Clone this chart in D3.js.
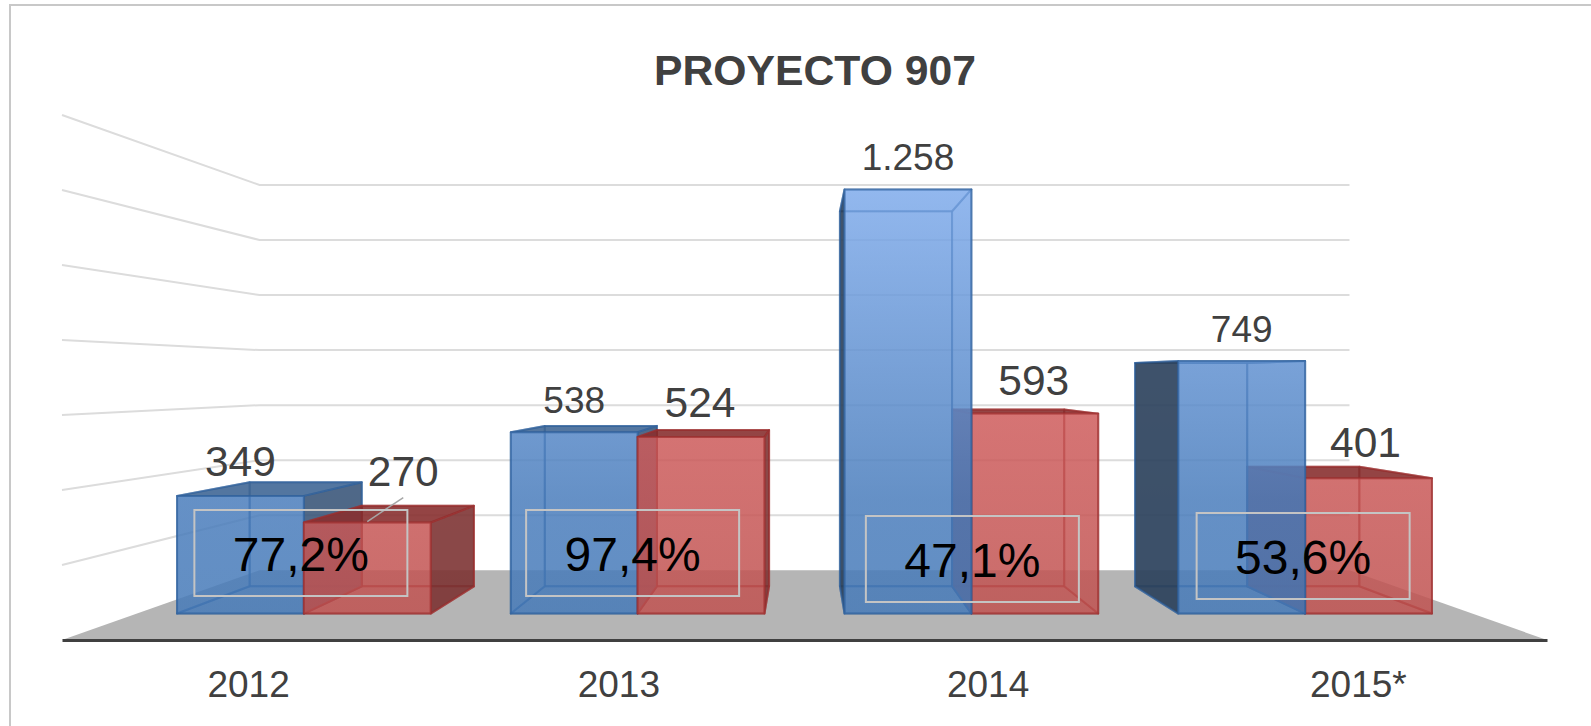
<!DOCTYPE html>
<html>
<head>
<meta charset="utf-8">
<script src="https://cdn.jsdelivr.net/npm/d3@7"></script>
<style>
  html, body { margin: 0; padding: 0; background: #fff; }
  svg { display: block; }
  text { font-family: "Liberation Sans", Arial, sans-serif; }
</style>
</head>
<body>
<div id="chart"></div>
<script>
var width = 1591,
    height = 726;

// data
var years = ["2012", "2013", "2014", "2015*"];
var series1 = [349, 538, 1258, 749];
var series2 = [270, 524, 593, 401];
var series1Labels = ["349", "538", "1.258", "749"];
var series2Labels = ["270", "524", "593", "401"];
var percents = ["77,2%", "97,4%", "47,1%", "53,6%"];
var gridTicks = [200, 400, 600, 800, 1000, 1200, 1400];

// hand placed label nudges, as in the original chart
var labelNudge1 = [[0, -6, 42.5], [0, -13, 37], [0, -19, 37], [0, -19, 37]];
var labelNudge2 = [[36, -20, 42.5], [-1, -13, 42.5], [-1, -15, 42.5], [-3, -10, 42.5]];
var boxNudge = [[-3, 553], [-5, 553], [1, 559], [-2, 556]];
var tickNudge = [1, 0, -2, -3];

// fake 3d: everything goes through one perspective projection
var vpX = 804.5, vpY = 378;
var floorY = 640;
var sBack = 0.734, sBarFront = 0.899, sBarBack = 0.795;

var x = d3.scaleBand()
    .domain(years)
    .range([62, 1547])
    .paddingInner(0.24)
    .paddingOuter(0.12);

var y = d3.scaleLinear()
    .domain([0, 1400])
    .range([floorY, floorY - 525]);

function project(wx, wy, s) {
  return [vpX + (wx - vpX) * s, vpY + (wy - vpY) * s];
}

var line = d3.line();

var svg = d3.select("#chart").append("svg")
    .attr("width", width)
    .attr("height", height);

var defs = svg.append("defs");

function addGradient(id, stops) {
  var grad = defs.append("linearGradient")
      .attr("id", id)
      .attr("gradientUnits", "userSpaceOnUse")
      .attr("x1", 0).attr("x2", 0)
      .attr("y1", 190).attr("y2", 620);
  stops.forEach(function(s) {
    grad.append("stop").attr("offset", s[0]).attr("stop-color", s[1]);
  });
}

addGradient("blueFill", [[0, "#7fabeb"], [0.72, "#4a7dbc"], [1, "#467ab8"]]);
addGradient("redFill", [[0, "#e06868"], [0.5, "#cf5c5c"], [1, "#bf5250"]]);

// frame, open on the right and bottom like the crop
svg.append("path")
    .attr("d", "M10," + height + "V5H" + width)
    .attr("fill", "none")
    .attr("stroke", "#c8c8c8")
    .attr("stroke-width", 2);

svg.append("text")
    .attr("x", 815)
    .attr("y", 85)
    .attr("text-anchor", "middle")
    .attr("font-size", 42.7)
    .attr("font-weight", "bold")
    .attr("fill", "#404040")
    .text("PROYECTO 907");

// floor
var r0 = x.range()[0], r1 = x.range()[1];
svg.append("path")
    .attr("d", line([project(r0, y(0), 1), project(r0, y(0), sBack), project(r1, y(0), sBack), project(r1, y(0), 1)]) + "Z")
    .attr("fill", "#b5b5b5");

// gridlines on left wall and back wall
svg.append("g").selectAll("path")
    .data(gridTicks)
    .enter().append("path")
    .attr("d", function(d) {
      return line([project(r0, y(d), 1), project(r0, y(d), sBack), project(r1, y(d), sBack)]);
    })
    .attr("fill", "none")
    .attr("stroke", "#dcdcdc")
    .attr("stroke-width", 2);

function drawBar(g, x0, x1, value, col) {
  var yTop = y(value), yBot = y(0);
  var fb = project(x0, yBot, sBarFront), fB = project(x1, yBot, sBarFront),
      ft = project(x0, yTop, sBarFront), fT = project(x1, yTop, sBarFront),
      bb = project(x0, yBot, sBarBack), bB = project(x1, yBot, sBarBack),
      bt = project(x0, yTop, sBarBack), bT = project(x1, yTop, sBarBack);

  var leftVisible = x0 > vpX,
      rightVisible = x1 < vpX,
      topVisible = yTop > vpY;

  function face(pts, fill, opacity) {
    g.append("path")
        .attr("d", line(pts) + "Z")
        .attr("fill", fill)
        .attr("fill-opacity", opacity)
        .attr("stroke", col.stroke)
        .attr("stroke-opacity", 0.6)
        .attr("stroke-width", 2)
        .attr("stroke-linejoin", "round");
  }

  var base = "url(#" + col.fill + ")";

  // inner faces first
  face([bb, bB, bT, bt], base, 0.5);
  face([fb, fB, bB, bb], base, 0.5);
  if (!leftVisible) face([fb, ft, bt, bb], base, 0.5);
  if (!rightVisible) face([fB, fT, bT, bB], base, 0.5);
  if (!topVisible) face([ft, fT, bT, bt], base, 0.5);

  // outer faces
  if (leftVisible) face([fb, ft, bt, bb], col.left, 0.85);
  if (rightVisible) face([fB, fT, bT, bB], col.right, 0.8);
  if (topVisible) face([ft, fT, bT, bt], col.top, 0.8);
  face([fb, fB, fT, ft], base, 0.7);
}

var blue = { fill: "blueFill", stroke: "#2f609c", left: "#2a3d55", right: "#3a5272", top: "#3e6490" };
var red = { fill: "redFill", stroke: "#9c2f2f", left: "#8a3030", right: "#743030", top: "#802a2a" };

// bars right of the vanishing point paint back to front the other way round
var bars = svg.append("g");
years.forEach(function(yr, i) {
  var g = bars.append("g");
  var a = x(yr), w = x.bandwidth() / 2;
  var draw1 = function() { drawBar(g, a, a + w, series1[i], blue); };
  var draw2 = function() { drawBar(g, a + w, a + 2 * w, series2[i], red); };
  if (a + w > vpX) { draw2(); draw1(); } else { draw1(); draw2(); }
});

// value labels
function addLabels(values, labels, nudge, offset) {
  svg.append("g").selectAll("text")
      .data(values)
      .enter().append("text")
      .attr("x", function(d, i) {
        var cx = x(years[i]) + x.bandwidth() * offset;
        return project(cx, y(d), sBarFront)[0] + nudge[i][0];
      })
      .attr("y", function(d, i) {
        var a = project(0, y(d), sBarFront)[1], b = project(0, y(d), sBarBack)[1];
        return Math.min(a, b) + nudge[i][1];
      })
      .attr("text-anchor", "middle")
      .attr("font-size", function(d, i) { return nudge[i][2]; })
      .attr("fill", "#404040")
      .text(function(d, i) { return labels[i]; });
}

addLabels(series1, series1Labels, labelNudge1, 0.25);
addLabels(series2, series2Labels, labelNudge2, 0.75);

// leader for the moved 270 label
var leaderEnd = project(x(years[0]) + x.bandwidth() * 0.75, y(series2[0]), sBarFront);
svg.append("line")
    .attr("x1", leaderEnd[0] + 36)
    .attr("y1", leaderEnd[1] - 25)
    .attr("x2", leaderEnd[0])
    .attr("y2", leaderEnd[1] - 1)
    .attr("stroke", "#a6a6a6")
    .attr("stroke-width", 1.5);

// ratio boxes
var boxes = svg.append("g").selectAll("g")
    .data(percents)
    .enter().append("g")
    .attr("transform", function(d, i) {
      var cx = project(x(years[i]) + x.bandwidth() / 2, floorY, sBarFront)[0];
      return "translate(" + (cx + boxNudge[i][0]) + "," + boxNudge[i][1] + ")";
    });

boxes.append("rect")
    .attr("x", -106.5)
    .attr("y", -43)
    .attr("width", 213)
    .attr("height", 86)
    .attr("fill", "none")
    .attr("stroke", "#c4c4c4")
    .attr("stroke-width", 2);

boxes.append("text")
    .attr("y", 18)
    .attr("text-anchor", "middle")
    .attr("font-size", 48)
    .attr("fill", "#000")
    .text(function(d) { return d; });

// category axis, its domain line is the dark front edge of the floor
var axis = svg.append("g")
    .attr("transform", "translate(0," + floorY + ")")
    .call(d3.axisBottom(x).tickSize(0).tickPadding(31));

axis.select(".domain")
    .attr("stroke", "#404040")
    .attr("stroke-width", 3);

axis.selectAll("text")
    .attr("dx", function(d, i) { return tickNudge[i]; })
    .attr("font-size", 37)
    .attr("font-family", "'Liberation Sans', Arial, sans-serif")
    .attr("fill", "#404040");
</script>
</body>
</html>
